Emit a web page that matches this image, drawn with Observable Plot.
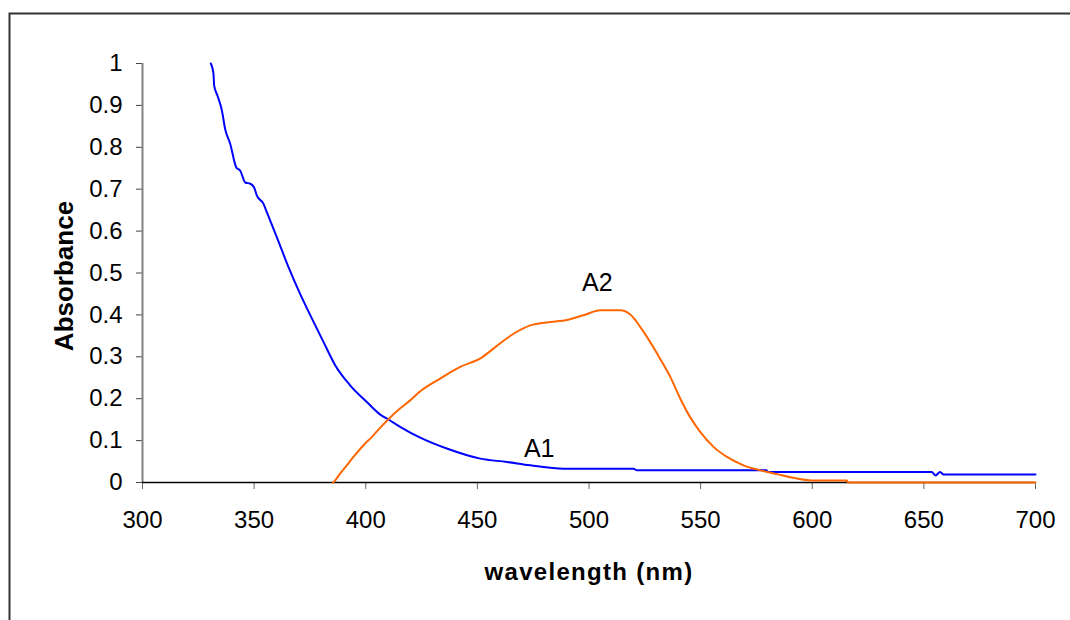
<!DOCTYPE html>
<html>
<head>
<meta charset="utf-8">
<script src="https://cdn.jsdelivr.net/npm/d3@7"></script>
<script src="https://cdn.jsdelivr.net/npm/@observablehq/plot@0.6"></script>
<style>
  html, body { margin: 0; padding: 0; background: #fff; }
  #chart { width: 1070px; height: 620px; }
</style>
</head>
<body>
<div id="chart"></div>
<script>
// Absorption spectra of the two species (wavelength in nm, absorbance)
const wavelengthA1 = [330.6, 331.8, 332.1, 333.6, 335.6, 337.0, 339.3, 342.0, 343.8, 346.0, 348.3, 350.0, 351.2, 354.2, 355.7, 360.2, 365.4, 370.6, 375.9, 381.1, 386.3, 393.0, 400.5, 406.5, 410.9, 415.4, 424.4, 436.3, 451.3, 463.2, 473.7, 488.6, 519.9, 521.5, 540, 560, 579.5, 580, 620, 653.5, 655.2, 657.3, 658.8, 680, 700];
const absorbanceA1 = [1.0, 0.975, 0.947, 0.923, 0.887, 0.844, 0.808, 0.752, 0.744, 0.716, 0.713, 0.704, 0.685, 0.665, 0.645, 0.585, 0.514, 0.450, 0.391, 0.335, 0.280, 0.232, 0.192, 0.162, 0.148, 0.133, 0.107, 0.081, 0.057, 0.049, 0.041, 0.033, 0.033, 0.029, 0.029, 0.029, 0.029, 0.025, 0.025, 0.025, 0.017, 0.025, 0.019, 0.019, 0.019];

const wavelengthA2 = [385.4, 386.3, 388.5, 391.5, 394.5, 399.0, 402.8, 406.5, 414.3, 419.9, 424.0, 433.3, 442.3, 451.3, 458.0, 466.2, 473.7, 482.7, 490.1, 497.5, 505.1, 514.0, 518.5, 524.4, 531.9, 536.4, 540.9, 545.3, 549.8, 555.8, 561.8, 569.2, 576.8, 584.2, 590.9, 599.8, 615.5, 616, 700];
const absorbanceA2 = [0, 0.005, 0.021, 0.041, 0.061, 0.089, 0.109, 0.131, 0.172, 0.196, 0.216, 0.248, 0.276, 0.296, 0.323, 0.355, 0.375, 0.383, 0.388, 0.399, 0.411, 0.411, 0.401, 0.360, 0.295, 0.252, 0.200, 0.156, 0.121, 0.085, 0.061, 0.041, 0.029, 0.020, 0.012, 0.005, 0.005, 0, 0];

const seriesNames = ["A1", "A2"];
const labelWavelength = [477.7, 503.7];
const labelAbsorbance = [0.060, 0.458];

const xTicks = [300, 350, 400, 450, 500, 550, 600, 650, 700];
const yTicks = [0, 0.1, 0.2, 0.3, 0.4, 0.5, 0.6, 0.7, 0.8, 0.9, 1];

const a1 = wavelengthA1.map((nm, i) => ({nm, abs: absorbanceA1[i]}));
const a2 = wavelengthA2.map((nm, i) => ({nm, abs: absorbanceA2[i]}));
const labels = seriesNames.map((name, i) => ({name, nm: labelWavelength[i], abs: labelAbsorbance[i]}));

const font = "'Liberation Sans', Arial, Helvetica, sans-serif";

const chart = Plot.plot({
  width: 1070,
  height: 620,
  marginLeft: 142,
  marginRight: 35,
  marginTop: 63,
  marginBottom: 138,
  style: {fontFamily: font, background: "#fff", color: "#000"},
  x: {domain: [300, 700]},
  y: {domain: [0, 1]},
  marks: [
    // outer border of the chart area
    Plot.frame({stroke: "#333", strokeWidth: 2, insetLeft: -133, insetTop: -50, insetRight: -80, insetBottom: -200}),
    Plot.axisY({ticks: yTicks, tickSize: 6, tickPadding: 14, fontSize: 24, label: null, stroke: "#444",
      tickFormat: d => String(+d.toFixed(1))}),
    Plot.axisX({ticks: xTicks, tickSize: 7, tickPadding: 21, fontSize: 24, label: null, stroke: "#666",
      tickFormat: d => String(d)}),
    Plot.ruleX([300], {stroke: "#808080", strokeWidth: 2}),
    Plot.ruleY([0], {stroke: "#000", strokeWidth: 1.5}),
    Plot.line(a1, {x: "nm", y: "abs", stroke: "#0000FF", strokeWidth: 2, curve: "monotone-x"}),
    Plot.line(a2, {x: "nm", y: "abs", stroke: "#FF6600", strokeWidth: 2, curve: "monotone-x"}),
    Plot.text(labels, {x: "nm", y: "abs", text: "name", fontSize: 25, lineAnchor: "bottom", fill: "#000"}),
    Plot.text(["Absorbance"], {frameAnchor: "left", rotate: -90, dx: -70, dy: 3, textAnchor: "middle",
      lineAnchor: "bottom", fontSize: 26, fontWeight: "bold", fill: "#000"}),
    Plot.text(["wavelength (nm)"], {frameAnchor: "bottom", dy: 97, textAnchor: "middle", lineAnchor: "bottom",
      fontSize: 24, fontWeight: "bold", fill: "#000"})
  ]
});

d3.select(chart).selectAll("text")
  .filter(function() { return this.textContent === "wavelength (nm)"; })
  .attr("letter-spacing", "1.3px");

document.getElementById("chart").appendChild(chart);
</script>
</body>
</html>
